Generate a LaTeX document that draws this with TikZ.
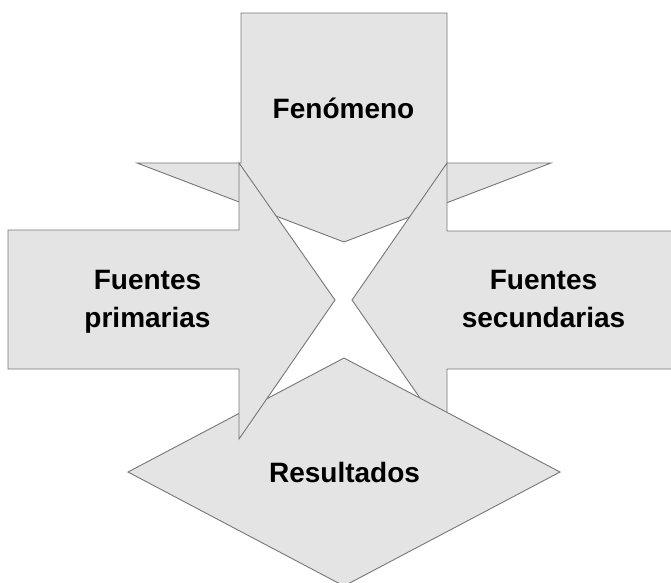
\documentclass[tikz,border=0pt]{standalone}
\usepackage{fontspec}
\setmainfont{Liberation Sans}
\usepackage{tikz}
\definecolor{relleno}{HTML}{E4E4E4}
\definecolor{borde}{HTML}{767676}

\begin{document}
\begin{tikzpicture}[x=1pt,y=-1pt,flecha/.style={fill=relleno,draw=borde,line width=0.9pt},texto/.style={font=\fontsize{28}{38}\selectfont\bfseries,align=center,inner sep=0pt}]
\useasboundingbox (0,0) rectangle (671,582);

% Fenomeno (arriba)
\draw[flecha] (241,13) -- (447,13) -- (447,163) -- (551,163) -- (344,242) -- (137,163) -- (241,163) -- cycle;
% Fuentes secundarias (derecha)
\draw[flecha] (676,231) -- (447,231) -- (447,163) -- (352,300) -- (447,437) -- (447,369) -- (676,369) ;
% Resultados (abajo)
\draw[flecha] (344,358) -- (560,472) -- (344,586) -- (128,472) -- cycle;
% Fuentes primarias (izquierda)
\draw[flecha] (8,230) -- (239,230) -- (239,163) -- (335,300) -- (239,439) -- (239,369) -- (8,369) -- cycle;

\node[texto,anchor=base] (fen) at (343.5,118) {Fenómeno};
\node[texto,anchor=base] (prim) at (147.5,327) {Fuentes\\primarias};
\node[texto,anchor=base] (sec) at (543.5,327) {Fuentes\\secundarias};
\node[texto,anchor=base] (res) at (344.5,482) {Resultados};
\end{tikzpicture}
\end{document}
